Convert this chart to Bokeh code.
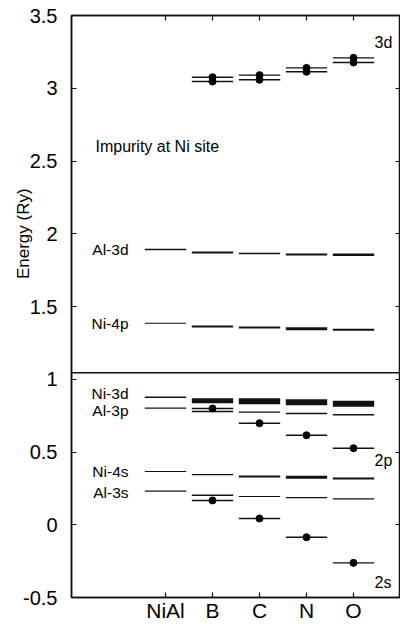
from bokeh.plotting import figure
from bokeh.models import LinearAxis, FixedTicker, Span, Label, Range1d, ColumnDataSource
from bokeh.embed import file_html
from bokeh.resources import INLINE

# ---------------- data ----------------
categories = ["NiAl", "B", "C", "N", "O"]
impurities = ["B", "C", "N", "O"]
y_ticks = [-0.5, 0, 0.5, 1, 1.5, 2, 2.5, 3, 3.5]
y_tick_labels = ["-0.5", "0", "0.5", "1", "1.5", "2", "2.5", "3", "3.5"]
y_title = "Energy (Ry)"

# host-derived levels (Ry), one per category
al3d = [1.892, 1.871, 1.864, 1.857, 1.855]
ni4p = [1.385, 1.363, 1.356, 1.347, 1.340]
ni3d = [0.877, 0.853, 0.849, 0.842, 0.832]
al3p = [0.801, 0.779, 0.774, 0.765, 0.756]
ni4s = [0.366, 0.345, 0.332, 0.327, 0.318]
al3s = [0.231, 0.203, 0.194, 0.187, 0.178]

# impurity-derived levels (Ry), one per impurity (B, C, N, O)
imp3d_upper = [3.076, 3.090, 3.140, 3.209]
imp3d_lower = [3.046, 3.058, 3.113, 3.177]
imp2p = [0.799, 0.698, 0.615, 0.526]
imp2s = [0.167, 0.043, -0.086, -0.262]

host_names = ["Al-3d", "Ni-4p", "Ni-3d", "Al-3p", "Ni-4s", "Al-3s"]
host_levels = [al3d, ni4p, ni3d, al3p, ni4s, al3s]
imp_levels = [imp3d_upper, imp3d_lower, imp2p, imp2s]

# ---------------- styles ----------------
host_widths = [
    [1.5, 2.0, 1.5, 2.0, 2.5],
    [1.2, 2.0, 2.0, 3.0, 2.0],
    [1.5, 5.0, 6.0, 6.0, 6.0],
    [1.2, 1.5, 1.2, 1.5, 1.5],
    [1.2, 1.2, 2.0, 3.0, 2.0],
    [1.2, 1.5, 1.2, 1.2, 1.2],
]
HALF = 0.44
FONT = "Liberation Sans"
INK = "#111111"
BREAK = 1.044
Y_TITLE_AT = 2.0

xpos = {c: i + 1 for i, c in enumerate(categories)}

p = figure(width=400, height=624, output_backend="svg", toolbar_location=None,
           x_range=Range1d(-1, 6), y_range=Range1d(-0.5, 3.5),
           min_border_left=71, min_border_top=15, min_border_right=0, min_border_bottom=27,
           x_axis_location=None, y_axis_location=None)
p.grid.visible = False
p.outline_line_color = INK
p.outline_line_width = 1.5
p.background_fill_color = "white"
p.border_fill_color = "white"

# host levels
hx0, hx1, hy, hw = [], [], [], []
for levels, widths in zip(host_levels, host_widths):
    for c, v, w in zip(categories, levels, widths):
        hx0.append(xpos[c] - HALF)
        hx1.append(xpos[c] + HALF)
        hy.append(v)
        hw.append(w)
hsrc = ColumnDataSource(dict(x0=hx0, x1=hx1, y=hy, w=hw))
p.segment(x0="x0", x1="x1", y0="y", y1="y", line_width="w", line_color=INK, source=hsrc)

# impurity levels with dots
ix0, ix1, ix, iy = [], [], [], []
for levels in imp_levels:
    for c, v in zip(impurities, levels):
        ix0.append(xpos[c] - HALF)
        ix1.append(xpos[c] + HALF)
        ix.append(xpos[c])
        iy.append(v)
isrc = ColumnDataSource(dict(x0=ix0, x1=ix1, x=ix, y=iy))
p.segment(x0="x0", x1="x1", y0="y", y1="y", line_width=1.4, line_color=INK, source=isrc)
p.scatter(x="x", y="y", size=7, color="black", source=isrc)

# break line
p.add_layout(Span(location=BREAK, dimension="width", line_color=INK, line_width=1.5))

# axes
def style_axis(ax, labels=True):
    ax.axis_line_color = INK
    ax.axis_line_width = 1.5
    ax.major_tick_line_color = INK
    ax.major_tick_line_width = 1.2
    ax.major_tick_in = 5
    ax.major_tick_out = 0
    ax.minor_tick_line_color = None
    if not labels:
        ax.major_label_text_font_size = "1px"
        ax.major_label_text_color = None
        ax.major_label_standoff = 0

ly = LinearAxis(ticker=FixedTicker(ticks=y_ticks),
                major_label_overrides={t: s for t, s in zip(y_ticks, y_tick_labels)})
style_axis(ly)
ly.major_label_text_font = FONT
ly.major_label_text_font_size = "20px"
ly.major_label_text_color = "black"
ly.major_label_standoff = 14
p.add_layout(ly, "left")

# y title carried by an outer, line-less axis (annotations are clipped to the frame)
lt = LinearAxis(ticker=FixedTicker(ticks=[Y_TITLE_AT]),
                major_label_overrides={Y_TITLE_AT: y_title})
lt.axis_line_color = None
lt.major_tick_line_color = None
lt.minor_tick_line_color = None
lt.major_tick_in = 0
lt.major_tick_out = 0
lt.major_label_orientation = "vertical"
lt.major_label_standoff = -12
lt.major_label_text_font = FONT
lt.major_label_text_font_size = "17px"
lt.major_label_text_color = "black"
p.add_layout(lt, "left")

ry = LinearAxis(ticker=FixedTicker(ticks=y_ticks))
style_axis(ry, labels=False)
p.add_layout(ry, "right")

bx = LinearAxis(ticker=FixedTicker(ticks=[xpos[c] for c in categories]),
                major_label_overrides={xpos[c]: c for c in categories})
style_axis(bx)
bx.major_label_text_font = FONT
bx.major_label_text_font_size = "21px"
bx.major_label_text_color = "black"
bx.major_label_standoff = 1
p.add_layout(bx, "below")

tx = LinearAxis(ticker=FixedTicker(ticks=[xpos[c] for c in categories]))
style_axis(tx, labels=False)
p.add_layout(tx, "above")

# level name labels
label_y = [1.892, 1.385, 0.902, 0.785, 0.366, 0.222]
for name, yv in zip(host_names, label_y):
    p.add_layout(Label(x=0.213, y=yv, text=name, text_align="right", text_baseline="middle",
                       text_font=FONT, text_font_size="15.5px", text_color="black"))

p.add_layout(Label(x=-0.49, y=2.60, text="Impurity at Ni site", text_align="left",
                   text_baseline="middle", text_font=FONT, text_font_size="16px",
                   text_color="black"))
for txt, yv in zip(["3d", "2p", "2s"], [3.314, 0.442, -0.397]):
    p.add_layout(Label(x=5.447, y=yv, text=txt, text_align="left", text_baseline="middle",
                       text_font=FONT, text_font_size="16px", text_color="black"))

open("out.html", "w").write(file_html(p, INLINE))
